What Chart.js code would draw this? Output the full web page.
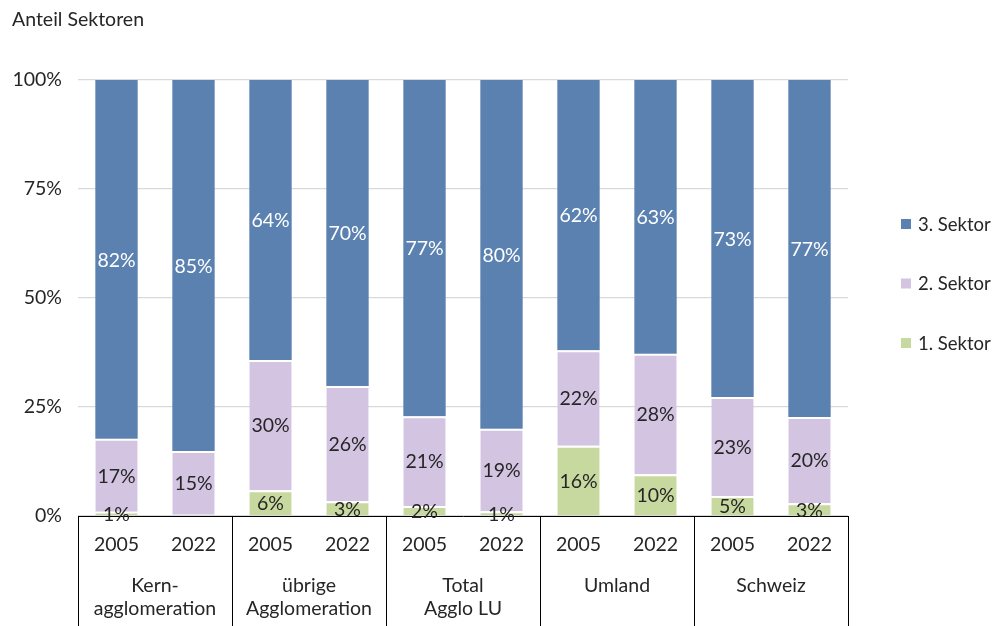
<!DOCTYPE html>
<html>
<head>
<meta charset="utf-8">
<script src="https://cdn.jsdelivr.net/npm/chart.js@4"></script>
<style>
  html, body { margin: 0; padding: 0; background: #fff; }
  #wrap { width: 995px; height: 626px; position: relative; }
</style>
</head>
<body>
<div id="wrap"><canvas id="myChart" width="995" height="626"></canvas></div>
<script>
const years = ['2005', '2022', '2005', '2022', '2005', '2022', '2005', '2022', '2005', '2022'];
const groups = [['Kern-', 'agglomeration'], ['übrige', 'Agglomeration'], ['Total', 'Agglo LU'], ['Umland'], ['Schweiz']];
const sektor1 = [1.0, 0.3, 5.9, 3.4, 2.3, 1.1, 16.1, 9.6, 4.6, 2.9];
const sektor2 = [16.7, 14.6, 29.9, 26.4, 20.6, 18.9, 21.9, 27.6, 22.7, 19.8];
const sektor3 = [82.3, 85.1, 64.2, 70.2, 77.1, 80.0, 62.0, 62.8, 72.7, 77.3];
const yTicks = [0, 25, 50, 75, 100];

const fontFam = 'Lato, "Open Sans", sans-serif';
const textCol = '#262626';

// value labels in the middle of each segment
const labelPlugin = {
    id: 'segLabels',
    afterDatasetsDraw(chart) {
        const ctx = chart.ctx;
        ctx.save();
        ctx.font = '19.5px ' + fontFam;
        ctx.textAlign = 'center';
        ctx.textBaseline = 'middle';
        chart.data.datasets.forEach((ds, i) => {
            const meta = chart.getDatasetMeta(i);
            meta.data.forEach((bar, j) => {
                const v = ds.data[j];
                if (v < 0.5) return;
                const y = (bar.y + bar.base) / 2;
                ctx.fillStyle = i === 2 ? '#ffffff' : textCol;
                ctx.fillText(Math.round(v) + '%', bar.x, y + 1);
            });
        });
        ctx.restore();
    }
};

// title, group labels, separators, legend
const extrasPlugin = {
    id: 'extras',
    afterDraw(chart) {
        const ctx = chart.ctx;
        const x = chart.scales.x;
        const area = chart.chartArea;
        ctx.save();
        ctx.fillStyle = textCol;
        ctx.font = '19.5px ' + fontFam;
        ctx.textBaseline = 'middle';
        ctx.textAlign = 'left';
        ctx.fillText('Anteil Sektoren', 12, 20);

        // separators
        ctx.strokeStyle = '#000';
        ctx.lineWidth = 1;
        ctx.beginPath();
        for (let g = 0; g <= groups.length; g++) {
            let px;
            if (g === 0) px = area.left;
            else if (g === groups.length) px = area.right;
            else px = (x.getPixelForValue(g * 2 - 1) + x.getPixelForValue(g * 2)) / 2;
            px = Math.round(px) + 0.5;
            ctx.moveTo(px, area.bottom);
            ctx.lineTo(px, 626);
        }
        ctx.stroke();

        // group labels
        ctx.textAlign = 'center';
        groups.forEach((lines, g) => {
            const cx = (x.getPixelForValue(g * 2) + x.getPixelForValue(g * 2 + 1)) / 2;
            lines.forEach((t, k) => {
                ctx.fillText(t, cx, 586 + k * 23);
            });
        });

        // legend
        const items = chart.data.datasets.slice().reverse();
        ctx.textAlign = 'left';
        ctx.font = '18.5px ' + fontFam;
        items.forEach((ds, k) => {
            const ly = 224 + k * 59.5;
            ctx.fillStyle = ds.backgroundColor;
            ctx.fillRect(901, ly - 5, 10, 10);
            ctx.fillStyle = textCol;
            ctx.fillText(ds.label, 918, ly + 1);
        });
        ctx.restore();
    }
};

const ctx = document.getElementById('myChart').getContext('2d');
const myChart = new Chart(ctx, {
    type: 'bar',
    data: {
        labels: years,
        datasets: [
            { label: '1. Sektor', data: sektor1, backgroundColor: '#C8D9A0', borderColor: '#ffffff', borderWidth: { top: 2 }, borderSkipped: 'bottom' },
            { label: '2. Sektor', data: sektor2, backgroundColor: '#D3C4E2', borderColor: '#ffffff', borderWidth: { top: 2 }, borderSkipped: 'bottom' },
            { label: '3. Sektor', data: sektor3, backgroundColor: '#5B81B1', borderColor: '#ffffff', borderWidth: 0 }
        ]
    },
    options: {
        responsive: false,
        animation: false,
        datasets: { bar: { categoryPercentage: 1, barPercentage: 0.55 } },
        layout: { padding: { top: 80, left: 0, right: 147, bottom: 0 } },
        plugins: {
            legend: { display: false },
            tooltip: { enabled: false }
        },
        scales: {
            x: {
                stacked: true,
                grid: { display: false, drawTicks: false },
                border: { display: true, color: '#000', width: 1 },
                ticks: { color: textCol, font: { family: fontFam, size: 19.5 }, padding: 17, maxRotation: 0 },
                afterFit(s) { s.height = 110; }
            },
            y: {
                stacked: true,
                min: 0,
                max: 100,
                afterBuildTicks(s) { s.ticks = yTicks.map(v => ({ value: v })); },
                grid: { color: '#D9D9D9', drawTicks: false, lineWidth: 1.3 },
                border: { display: false },
                ticks: {
                    color: textCol,
                    font: { family: fontFam, size: 19.5 },
                    padding: 16,
                    callback: v => v + '%'
                },
                afterFit(s) { s.width = 78; }
            }
        }
    },
    plugins: [labelPlugin, extrasPlugin]
});
</script>
</body>
</html>
